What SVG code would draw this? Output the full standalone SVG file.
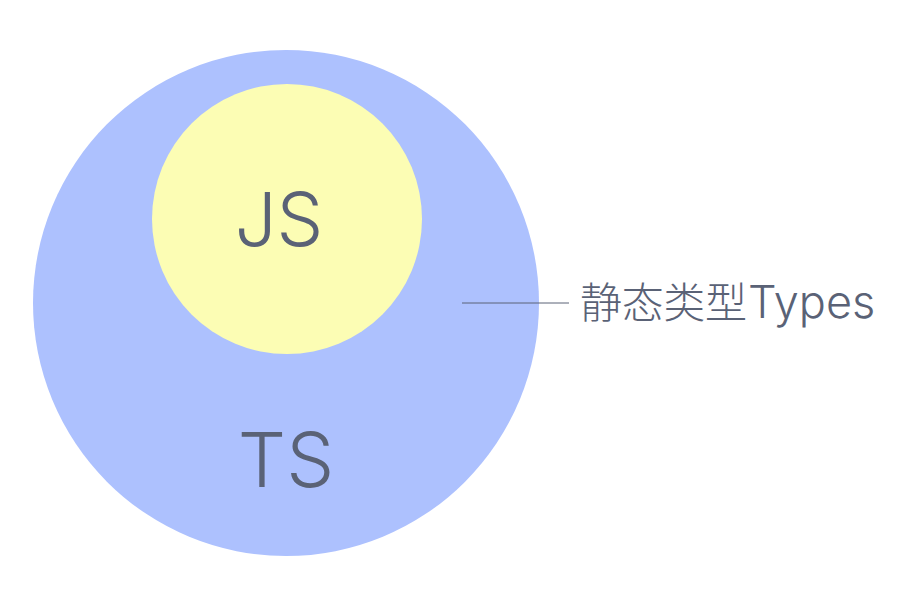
<svg xmlns="http://www.w3.org/2000/svg" width="900" height="600" viewBox="0 0 900 600">
<style>
.lbl{fill:#5a6276;font-family:Inter,"Liberation Sans","Noto Sans CJK SC",sans-serif;font-weight:300}
.cjk{font-family:"Noto Sans CJK SC",sans-serif;font-weight:300}
</style>
<rect width="900" height="600" fill="#ffffff"/>
<g id="ts">
<circle cx="286" cy="303" r="253" fill="#adc1fe"/>
<text class="lbl" x="286" y="487" font-size="76" text-anchor="middle">TS</text>
</g>
<g id="js">
<circle cx="287" cy="219" r="135" fill="#fcfdb4"/>
<text class="lbl" x="279" y="246" font-size="74" text-anchor="middle">JS</text>
</g>
<g id="connectors">
<line x1="462" y1="303" x2="569" y2="303" stroke="#5a6276" stroke-width="1"/>
</g>
<g id="types">
<text class="lbl" y="318" font-size="42"><tspan class="cjk" x="580" textLength="167" lengthAdjust="spacing">静态类型</tspan><tspan x="748" font-size="45">Types</tspan></text>
</g>
</svg>
